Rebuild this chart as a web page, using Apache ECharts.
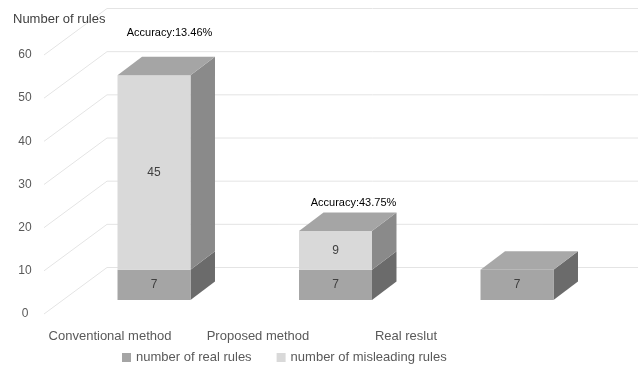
<!DOCTYPE html>
<html>
<head>
<meta charset="utf-8">
<script src="https://cdn.jsdelivr.net/npm/echarts@6/dist/echarts.min.js"></script>
<style>
  html, body { margin: 0; padding: 0; background: #fff; }
  #chart { width: 638px; height: 365px; }
</style>
</head>
<body>
<div id="chart"></div>
<script>
// Rule counts per method
const categories = ['Conventional method', 'Proposed method', 'Real reslut'];
const realRules = [7, 7, 7];
const misleadingRules = [45, 9, 0];
const yTicks = [0, 10, 20, 30, 40, 50, 60];
const seriesNames = ['number of real rules', 'number of misleading rules'];

// Accuracy = real rules / all detected rules (only where misleading rules exist)
const accuracy = categories.map((c, i) =>
  misleadingRules[i] > 0 ? (realRules[i] / (realRules[i] + misleadingRules[i]) * 100).toFixed(2) : null);

// Layout of the pseudo-3D scene
const FONT = '"Liberation Sans", Arial, sans-serif';
const WALL_DX = 63, WALL_DY = -46.5;     // depth of the back wall
const BOX_DX = 24.5, BOX_DY = -18.5;     // depth of each box
const BOX_RATIO = 0.402;                 // box width relative to category band
const NOTE_SHIFT = [[15.5, 42], [18, 28], [0, 0]];

const colors = {
  realFront: '#A5A5A5', realSide: '#6B6B6B', realTop: '#A8A8A8',
  misFront: '#D9D9D9', misSide: '#8A8A8A', misTop: '#A5A5A5'
};

function boxRenderer(front, side, topColor) {
  return function (params, api) {
    const cat = api.value(0), base = api.value(1), val = api.value(2), isTop = api.value(3);
    if (val <= 0) return null;
    const pb = api.coord([cat, base]);
    const pt = api.coord([cat, base + val]);
    const w = api.size([1, 0])[0] * BOX_RATIO;
    const x0 = pb[0] - w / 2, x1 = pb[0] + w / 2, yb = pb[1], yt = pt[1];
    const children = [
      { type: 'polygon', shape: { points: [[x1, yb], [x1 + BOX_DX, yb + BOX_DY], [x1 + BOX_DX, yt + BOX_DY], [x1, yt]] },
        style: { fill: side } },
      { type: 'rect', shape: { x: x0, y: yt, width: w, height: yb - yt },
        style: { fill: front } },
      { type: 'text', style: { text: String(val), x: (x0 + x1) / 2, y: (yt + yb) / 2,
        align: 'center', verticalAlign: 'middle', fill: '#404040', font: '12px ' + FONT } }
    ];
    if (isTop) {
      children.push({ type: 'polygon', shape: { points: [[x0, yt], [x0 + BOX_DX, yt + BOX_DY], [x1 + BOX_DX, yt + BOX_DY], [x1, yt]] },
        style: { fill: topColor } });
      if (accuracy[cat] !== null) {
        children.push({ type: 'text', style: {
          text: 'Accuracy:' + accuracy[cat] + '%',
          x: pb[0] + NOTE_SHIFT[cat][0], y: yt - NOTE_SHIFT[cat][1],
          align: 'center', verticalAlign: 'middle', fill: '#000', font: '11px ' + FONT } });
      }
    }
    return { type: 'group', children: children };
  };
}

const chart = echarts.init(document.getElementById('chart'), null, { renderer: 'canvas' });
chart.setOption({
  animation: false,
  textStyle: { fontFamily: FONT },
  title: {
    text: 'Number of rules', left: 13, top: 13, padding: 0,
    textStyle: { fontSize: 13, fontWeight: 'normal', color: '#404040', fontFamily: FONT }
  },
  legend: {
    data: seriesNames, left: 117, top: 346, icon: 'rect',
    itemWidth: 9, itemHeight: 9, itemGap: 25,
    textStyle: { fontSize: 13, color: '#595959', fontFamily: FONT }
  },
  grid: [
    { left: 63.25, top: 40.8, width: 544.5, height: 259.2 },   // box fronts
    { left: 36, top: 55, width: 444, height: 259 }             // front edge of the floor
  ],
  xAxis: [
    { type: 'category', gridIndex: 0, data: categories, show: false },
    { type: 'category', gridIndex: 1, data: categories,
      axisLine: { show: false }, axisTick: { show: false },
      axisLabel: { color: '#595959', fontSize: 13, margin: 16, interval: 0, fontFamily: FONT } }
  ],
  yAxis: [
    { type: 'value', gridIndex: 0, min: 0, max: 60, show: false },
    { type: 'value', gridIndex: 1, min: 0, max: 60, interval: 10,
      axisLine: { show: false }, axisTick: { show: false }, splitLine: { show: false },
      axisLabel: { color: '#595959', fontSize: 12, margin: 11, align: 'center', fontFamily: FONT } }
  ],
  series: [
    {
      type: 'custom', name: 'wall', xAxisIndex: 1, yAxisIndex: 1, silent: true,
      data: yTicks.map(v => [0, v]),
      encode: { x: 0, y: 1 },
      renderItem: function (params, api) {
        const y = api.coord([0, api.value(1)])[1];
        const x = params.coordSys.x + 8;
        return { type: 'polyline',
          shape: { points: [[x, y], [x + WALL_DX, y + WALL_DY], [api.getWidth(), y + WALL_DY]] },
          style: { stroke: '#E4E4E4', lineWidth: 1, fill: null } };
      }
    },
    {
      type: 'custom', name: seriesNames[0], xAxisIndex: 0, yAxisIndex: 0,
      itemStyle: { color: colors.realFront },
      data: categories.map((c, i) => [i, 0, realRules[i], misleadingRules[i] > 0 ? 0 : 1]),
      encode: { x: 0, y: 2 },
      renderItem: boxRenderer(colors.realFront, colors.realSide, colors.realTop)
    },
    {
      type: 'custom', name: seriesNames[1], xAxisIndex: 0, yAxisIndex: 0,
      itemStyle: { color: colors.misFront },
      data: categories.map((c, i) => [i, realRules[i], misleadingRules[i], 1]),
      encode: { x: 0, y: 2 },
      renderItem: boxRenderer(colors.misFront, colors.misSide, colors.misTop)
    }
  ]
});
</script>
</body>
</html>
